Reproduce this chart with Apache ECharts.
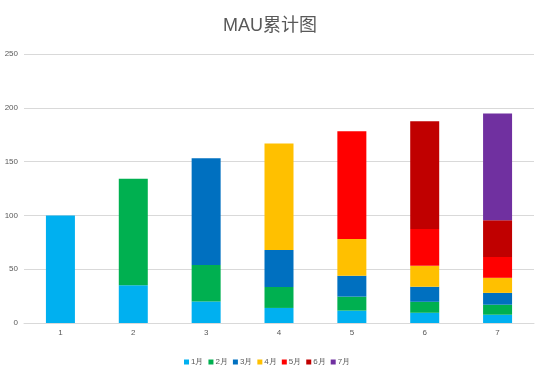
<!DOCTYPE html>
<html>
<head>
<meta charset="utf-8">
<script src="https://cdn.jsdelivr.net/npm/echarts@6/dist/echarts.min.js"></script>
<style>
  html, body { margin: 0; padding: 0; background: #fff; }
  #chart { width: 554px; height: 383px; }
</style>
</head>
<body>
<div id="chart"></div>
<script>
// categories and per-cohort values
const categories = ['1', '2', '3', '4', '5', '6', '7'];
const seriesNames = ['1月', '2月', '3月', '4月', '5月', '6月', '7月'];
const colors = ['#00B0F0', '#00B050', '#0070C0', '#FFC000', '#FF0000', '#C00000', '#7030A0'];
const m1 = [100, 35, 20, 14, 11.5, 9.5, 7.7];
const m2 = [null, 99, 34, 19.5, 13, 10.2, 9.3];
const m3 = [null, null, 99, 34.3, 19.4, 14, 11];
const m4 = [null, null, null, 99, 34.2, 19.4, 14];
const m5 = [null, null, null, null, 100, 34.3, 19.4];
const m6 = [null, null, null, null, null, 100, 34.2];
const m7 = [null, null, null, null, null, null, 99];
const yTicks = [0, 50, 100, 150, 200, 250];

const values = [m1, m2, m3, m4, m5, m6, m7];

const chart = echarts.init(document.getElementById('chart'));
chart.setOption({
    animation: false,
    title: {
        text: 'MAU累计图',
        left: 218,
        top: 12,
        textStyle: { color: '#595959', fontSize: 18, fontWeight: 'normal', fontFamily: 'Liberation Sans, Noto Sans CJK SC, sans-serif' }
    },
    legend: {
        top: 358,
        left: 184,
        padding: 0,
        itemWidth: 5,
        itemHeight: 5,
        itemGap: 5,
        icon: 'rect',
        textStyle: { color: '#595959', fontSize: 8, padding: [0, 0, 0, -3] },
        data: seriesNames
    },
    grid: { left: 24, right: 20, top: 54, bottom: 60 },
    xAxis: {
        type: 'category',
        data: categories,
        axisLine: { lineStyle: { color: '#d9d9d9' } },
        axisTick: { show: false },
        axisLabel: { color: '#595959', fontSize: 8, margin: 6 }
    },
    yAxis: {
        type: 'value',
        min: yTicks[0],
        max: yTicks[yTicks.length - 1],
        interval: 50,
        axisLine: { show: false },
        axisTick: { show: false },
        axisLabel: { color: '#595959', fontSize: 8, margin: 6 },
        splitLine: { lineStyle: { color: '#d9d9d9' } }
    },
    series: values.map((d, i) => ({
        name: seriesNames[i],
        type: 'bar',
        stack: 'total',
        barWidth: 29,
        itemStyle: { color: colors[i] },
        data: d
    }))
});
window.addEventListener('resize', () => chart.resize());
</script>
</body>
</html>
